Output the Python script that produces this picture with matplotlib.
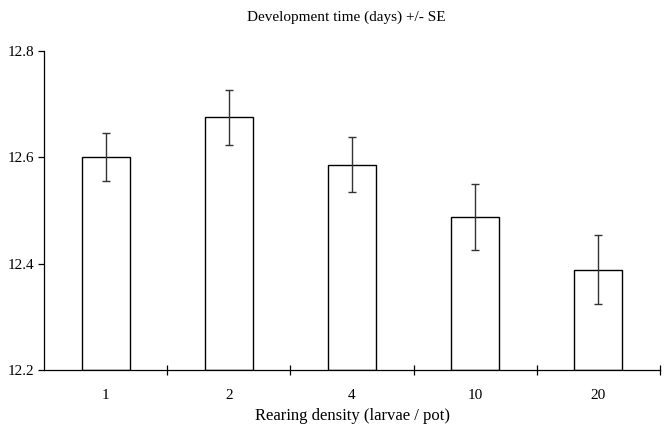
import matplotlib
matplotlib.use("Agg")
import matplotlib.pyplot as plt
import numpy as np

categories = ["1", "2", "4", "10", "20"]
means = [12.601, 12.675, 12.586, 12.487, 12.389]
se = [0.045, 0.052, 0.052, 0.062, 0.064]
yticks = [12.2, 12.4, 12.6, 12.8]
ytick_labels = ["12.2", "12.4", "12.6", "12.8"]

plt.rcParams['font.family'] = ['Liberation Serif', 'DejaVu Serif']

fig = plt.figure(figsize=(6.67, 4.24), dpi=100)
ax = fig.add_axes([44/667, (424-370)/424, (660-44)/667, (370-51)/424])

x = np.arange(len(categories)) + 0.5
ax.bar(x, np.array(means) - 12.2, bottom=12.2, width=0.39,
       facecolor='white', edgecolor='black', linewidth=1.0, zorder=2)
ax.errorbar(x, means, yerr=se, fmt='none', ecolor='#333333',
            elinewidth=1.0, capsize=3, capthick=1.0, zorder=3)

ax.set_xlim(0, len(categories))
ax.set_ylim(12.2, 12.8)
ax.set_yticks(yticks)
ax.set_yticklabels(ytick_labels)
ax.set_xticks(x)
ax.set_xticklabels(categories)
ax.set_xticks(np.arange(1, len(categories) + 1), minor=True)
ax.tick_params(axis='x', which='major', length=0, pad=14, labelsize=11)
ax.tick_params(axis='x', which='minor', direction='inout', length=7, width=0.9)
ax.tick_params(axis='y', which='major', direction='out', length=4, width=0.9,
               labelsize=11, pad=3)

for s in ['top', 'right']:
    ax.spines[s].set_visible(False)
for s in ['left', 'bottom']:
    ax.spines[s].set_linewidth(0.9)

ax.set_xlabel("Rearing density (larvae / pot)", fontsize=12, labelpad=4)
fig.text(346/667, 1 - 17/424, "Development time (days) +/- SE",
         ha='center', va='center', fontsize=11)

fig.savefig("out.png", dpi=100)
